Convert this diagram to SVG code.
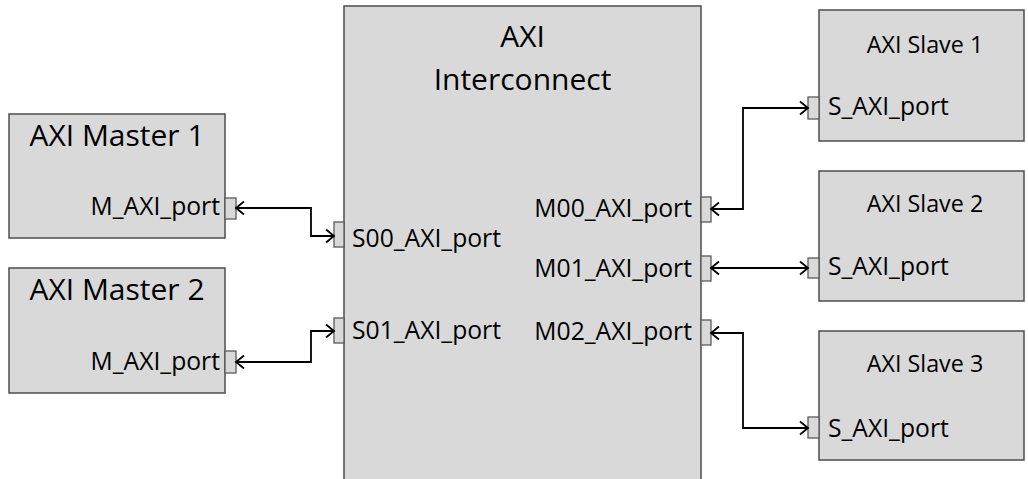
<svg xmlns="http://www.w3.org/2000/svg" width="1028" height="479" viewBox="0 0 1028 479">
<style>
.box{fill:#d9d9d9;stroke:#4d4d4d;stroke-width:1.5}
.port{fill:#d9d9d9;stroke:#595959;stroke-width:1.3}
.big{font-family:"Open Sans","Noto Sans",sans-serif;font-size:30px;fill:#000}
.lbl{font-family:"Open Sans","Noto Sans",sans-serif;font-size:24.7px;fill:#000}
.st{font-family:"Open Sans","Noto Sans",sans-serif;font-size:23.3px;fill:#000}
.conn{fill:none;stroke:#000;stroke-width:1.8}
</style>
<defs>
<marker id="ah" markerUnits="userSpaceOnUse" markerWidth="14" markerHeight="16" viewBox="-10 -8 12 16" refX="0" refY="0" orient="auto-start-reverse">
<path d="M-8,-6.5 L0,0 L-8,6.5" fill="none" stroke="#000" stroke-width="1.8"/>
</marker>
</defs>
<g id="interconnect">
<rect class="box" x="344" y="6" width="357" height="500"/>
<text class="big" x="522.5" y="47" text-anchor="middle">AXI</text>
<text class="big" x="522.5" y="90" text-anchor="middle">Interconnect</text>
<rect class="port" x="334" y="222" width="10" height="25"/>
<text class="lbl" x="352" y="247">S00_AXI_port</text>
<rect class="port" x="334" y="318" width="10" height="25"/>
<text class="lbl" x="352" y="339">S01_AXI_port</text>
<rect class="port" x="701" y="197" width="10" height="25"/>
<text class="lbl" x="692" y="217" text-anchor="end">M00_AXI_port</text>
<rect class="port" x="701" y="256" width="10" height="25"/>
<text class="lbl" x="692" y="277" text-anchor="end">M01_AXI_port</text>
<rect class="port" x="701" y="320" width="10" height="25"/>
<text class="lbl" x="692" y="340" text-anchor="end">M02_AXI_port</text>
</g>
<g id="master1">
<rect class="box" x="9" y="114" width="216" height="124"/>
<text class="big" x="117" y="146" text-anchor="middle">AXI Master 1</text>
<rect class="port" x="225" y="198" width="11" height="21"/>
<text class="lbl" x="220" y="215" text-anchor="end">M_AXI_port</text>
</g>
<g id="master2">
<rect class="box" x="9" y="268" width="216" height="125"/>
<text class="big" x="117" y="300" text-anchor="middle">AXI Master 2</text>
<rect class="port" x="225" y="351" width="11" height="22"/>
<text class="lbl" x="220" y="370" text-anchor="end">M_AXI_port</text>
</g>
<g id="slave1">
<rect class="box" x="819" y="10" width="205" height="131"/>
<text class="st" x="925" y="53" text-anchor="middle">AXI Slave 1</text>
<rect class="port" x="808" y="97" width="11" height="22"/>
<text class="lbl" x="828" y="115">S_AXI_port</text>
</g>
<g id="slave2">
<rect class="box" x="819" y="171" width="205" height="130"/>
<text class="st" x="925" y="212" text-anchor="middle">AXI Slave 2</text>
<rect class="port" x="808" y="258" width="11" height="20"/>
<text class="lbl" x="828" y="275">S_AXI_port</text>
</g>
<g id="slave3">
<rect class="box" x="819" y="331" width="205" height="129"/>
<text class="st" x="925" y="372" text-anchor="middle">AXI Slave 3</text>
<rect class="port" x="808" y="417" width="11" height="21"/>
<text class="lbl" x="828" y="437">S_AXI_port</text>
</g>
<g id="connectors">
<path class="conn" d="M236,208 H311 V236 H334" marker-start="url(#ah)" marker-end="url(#ah)"/>
<path class="conn" d="M236,362 H311 V331 H334" marker-start="url(#ah)" marker-end="url(#ah)"/>
<path class="conn" d="M711,209 H743 V108 H808" marker-start="url(#ah)" marker-end="url(#ah)"/>
<path class="conn" d="M711,268 H808" marker-start="url(#ah)" marker-end="url(#ah)"/>
<path class="conn" d="M711,333 H743 V428 H808" marker-start="url(#ah)" marker-end="url(#ah)"/>
</g>
</svg>
